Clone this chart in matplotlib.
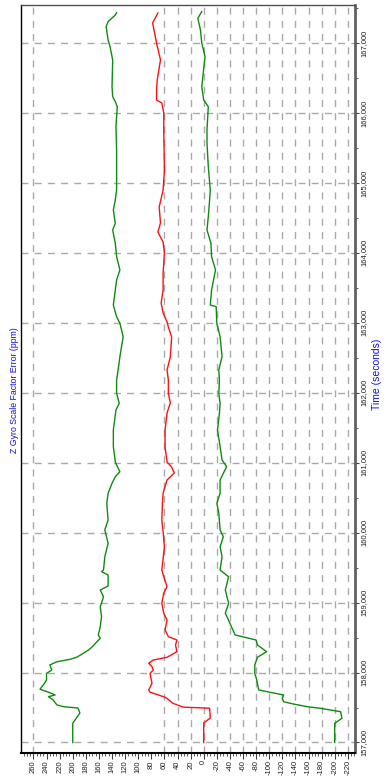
import matplotlib
matplotlib.use("Agg")
import matplotlib.pyplot as plt
from matplotlib.ticker import MultipleLocator, FuncFormatter, FixedLocator

# Upper bound of the scale factor error (ppm)
t_upper = [157000, 157274, 157422, 157493, 157512, 157536, 157608, 157655, 157679, 157712,
           157761, 157822, 157894, 157989, 158036, 158108, 158155, 158189, 158218, 158275,
           158322, 158361, 158490, 158537, 158655, 158798, 158941, 159084, 159180, 159237,
           159395, 159442, 159466, 159656, 159848, 160038, 160181, 160420, 160563, 160706,
           160800, 160871, 160967, 161014, 161229, 161468, 161753, 161849, 161992, 162182,
           162372, 162515, 162801, 162993, 163087, 163254, 163469, 163612, 163755, 163945,
           164137, 164327, 164422, 164613, 164756, 164899, 165470, 165804, 166089, 166161,
           166233, 166375, 166757, 166947, 167043, 167233, 167305, 167400, 167433]
upper = [200, 200, 189, 192, 214, 224, 230, 237, 227, 235,
         250, 245, 240, 240, 232, 235, 224, 204, 194, 184,
         176, 171, 158, 161, 158, 156, 158, 153, 158, 146,
         146, 156, 153, 151, 146, 151, 146, 148, 146, 140,
         135, 128, 133, 135, 138, 138, 134, 129, 133, 133,
         130, 128, 123, 128, 133, 138, 135, 133, 128, 133,
         135, 139, 135, 138, 135, 133, 133, 134, 132, 135,
         139, 140, 139, 143, 146, 149, 146, 135, 133]

# Estimated scale factor error (ppm)
t_est = [157000, 157279, 157350, 157490, 157505, 157560, 157630, 157650, 157720, 157751,
         157846, 157989, 158036, 158084, 158132, 158179, 158218, 158298, 158394, 158465,
         158513, 158608, 158751, 158847, 158990, 159133, 159227, 159370, 159466, 159795,
         160009, 160181, 160424, 160567, 160753, 160853, 160939, 161010, 161224, 161468,
         161711, 161854, 161996, 162182, 162325, 162511, 162797, 162940, 163011, 163140,
         163283, 163469, 163712, 163998, 164155, 164298, 164427, 164655, 164899, 165184,
         165713, 166000, 166142, 166185, 166328, 166471, 166757, 167000, 167143, 167286,
         167357, 167429]
est = [0, 0, -10, -9, 31, 47, 56, 60, 82, 84,
       79, 82, 77, 79, 84, 77, 56, 41, 43, 41,
       54, 59, 56, 61, 64, 61, 56, 61, 64, 60,
       62, 64, 63, 62, 56, 45, 49, 56, 59, 59,
       56, 51, 54, 54, 56, 51, 49, 54, 56, 62,
       65, 62, 62, 60, 62, 70, 66, 68, 62, 60,
       61, 61, 64, 72, 72, 71, 66, 72, 75, 78,
       74, 70]

# Lower bound of the scale factor error (ppm)
t_lower = [157000, 157274, 157346, 157440, 157489, 157512, 157550, 157583, 157632, 157679,
           157726, 157751, 157894, 157989, 158108, 158218, 158298, 158394, 158465, 158537,
           158704, 158847, 158990, 159180, 159370, 159466, 159656, 159799, 159942, 160038,
           160277, 160420, 160563, 160753, 160943, 161039, 161229, 161468, 161706, 161849,
           161992, 162182, 162325, 162515, 162801, 162993, 163230, 163254, 163469, 163755,
           163945, 164137, 164327, 164517, 164756, 164899, 165232, 165566, 165756, 166089,
           166185, 166375, 166804, 167000, 167186, 167353, 167448]
lower = [-200, -200, -211, -209, -178, -158, -137, -122, -120, -122,
         -97, -84, -81, -78, -78, -82, -96, -82, -80, -48,
         -40, -33, -38, -33, -38, -25, -28, -25, -30, -25,
         -23, -20, -25, -25, -35, -28, -25, -21, -24, -25,
         -23, -24, -23, -28, -25, -20, -19, -10, -12, -18,
         -12, -11, -5, -7, -9, -10, -7, -5, -5, -7,
         0, 3, -2, 3, 5, 9, 3]

value_ticks = list(range(260, -221, -20))
value_grid = [260] + list(range(60, -221, -20))
time_ticks = list(range(157000, 167001, 1000))

plt.rcParams['axes.unicode_minus'] = False
tick_font = ['Liberation Sans Narrow', 'Liberation Sans', 'DejaVu Sans']

W, H = 385, 782
fig = plt.figure(figsize=(W / 100, H / 100), dpi=100)
ax = fig.add_axes([21 / W, 1 - 752.5 / H, (355 - 21) / W, (752.5 - 5) / H])

grid_kw = dict(color='#a9a9a9', lw=1.0, ls=(0, (5, 4.5)), zorder=1)
for v in value_grid:
    ax.axvline(v, **grid_kw)
for t in time_ticks:
    ax.axhline(t, **grid_kw)

ax.plot(upper, t_upper, color='#108a10', lw=1.0, zorder=3)
ax.plot(lower, t_lower, color='#108a10', lw=1.0, zorder=3)
ax.plot(est, t_est, color='#ff1010', lw=1.0, zorder=4)

ax.set_xlim(279, -231)
ax.set_ylim(156857, 167543)

ax.xaxis.set_major_locator(FixedLocator(value_ticks))
ax.xaxis.set_minor_locator(MultipleLocator(5))
ax.yaxis.set_major_locator(FixedLocator(time_ticks))
ax.yaxis.set_minor_locator(MultipleLocator(500))
ax.yaxis.set_major_formatter(FuncFormatter(lambda v, p: f"{int(v):,}"))

ax.yaxis.tick_right()
ax.tick_params(axis='x', which='major', length=4, width=0.8, color='#404040',
               labelsize=5.5, labelrotation=90, pad=1.5)
ax.tick_params(axis='x', which='minor', length=2, width=0.6, color='#404040')
ax.tick_params(axis='y', which='major', length=3, width=0.8, color='#404040',
               labelsize=5.5, labelrotation=90, pad=1)
ax.tick_params(axis='y', which='minor', length=2, width=0.6, color='#404040')
for lab in ax.get_xticklabels() + ax.get_yticklabels():
    lab.set_family(tick_font)
    lab.set_color('#202020')
for lab in ax.get_yticklabels():
    lab.set_verticalalignment('center')

ax.spines['left'].set_color('black')
ax.spines['left'].set_linewidth(1.0)
ax.spines['bottom'].set_color('black')
ax.spines['bottom'].set_linewidth(1.5)
ax.spines['top'].set_color('#505050')
ax.spines['top'].set_linewidth(1.0)
ax.spines['right'].set_color('#606060')
ax.spines['right'].set_linewidth(2.0)

fig.text(15 / W, 1 - 390 / H, 'Z Gyro Scale Factor Error (ppm)', rotation=90,
         ha='center', va='center', color='#1010e0', fontsize=6.3, family=tick_font)
fig.text(377.5 / W, 1 - 374 / H, 'Time (seconds)', rotation=90,
         ha='center', va='center', color='#1010e0', fontsize=7.5, family=tick_font)

fig.savefig('out.png', dpi=100)
